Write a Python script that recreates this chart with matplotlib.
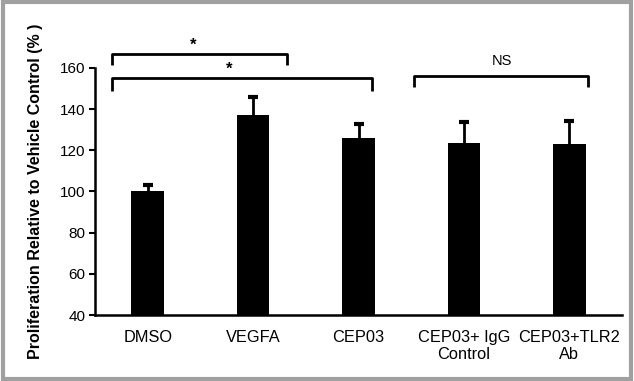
import matplotlib
matplotlib.use("Agg")
import matplotlib.pyplot as plt
from matplotlib.patches import Rectangle

plt.rcParams['font.family'] = ['Liberation Sans', 'DejaVu Sans']

categories = ["DMSO", "VEGFA", "CEP03", "CEP03+ IgG\nControl", "CEP03+TLR2\nAb"]
means = [100, 137, 126, 123.7, 123.2]
errors = [3, 9, 6.8, 10.2, 10.8]
yticks = [40, 60, 80, 100, 120, 140, 160]

fig = plt.figure(figsize=(6.34, 3.81), dpi=100)
ax = fig.add_axes([0.150, 0.173, 0.831, 0.649])

x = list(range(len(categories)))
tops = [m + e for m, e in zip(means, errors)]
ax.bar(x, [m - 40 for m in means], bottom=40, width=0.31, color='black', zorder=2)
ax.vlines(x, means, tops, color='black', lw=2, zorder=1)
ax.plot(x, tops, ls='none', marker='_', markersize=7, markeredgewidth=3,
        color='black', zorder=1)

ax.set_xlim(-0.5, 4.5)
ax.set_ylim(40, 160)
ax.set_yticks(yticks)
ax.set_xticks(x)
ax.set_xticklabels(categories, fontsize=11.8, linespacing=1.12)
ax.tick_params(axis='x', length=0, pad=11)
ax.tick_params(axis='y', length=4, width=1.5, labelsize=11, pad=3)
for s in ['top', 'right']:
    ax.spines[s].set_visible(False)
ax.spines['left'].set_linewidth(1.8)
ax.spines['bottom'].set_linewidth(1.8)
ax.set_ylabel("Proliferation Relative to Vehicle Control (% )", fontsize=11.5,
              fontweight='bold', labelpad=12)

def bracket(x0, x1, ytop, ybot):
    ax.plot([x0, x0, x1, x1], [ybot, ytop, ytop, ybot], color='black', lw=2,
            clip_on=False, solid_joinstyle='round', solid_capstyle='butt')

bracket(-0.34, 1.32, 166.8, 161.5)
bracket(-0.34, 2.13, 155.1, 148.8)
bracket(2.53, 4.18, 156.1, 150.8)
ax.text(0.43, 171.0, '*', ha='center', va='center', fontsize=12, fontweight='bold', clip_on=False)
ax.text(0.77, 159.5, '*', ha='center', va='center', fontsize=12, fontweight='bold', clip_on=False)
ax.text(3.36, 163.4, 'NS', ha='center', va='center', fontsize=10.5, clip_on=False)

fig.add_artist(Rectangle((0.004, 0.006), 0.992, 0.988, transform=fig.transFigure,
                         fill=False, edgecolor='#a0a0a0', linewidth=3))

fig.savefig("out.png", dpi=100)
